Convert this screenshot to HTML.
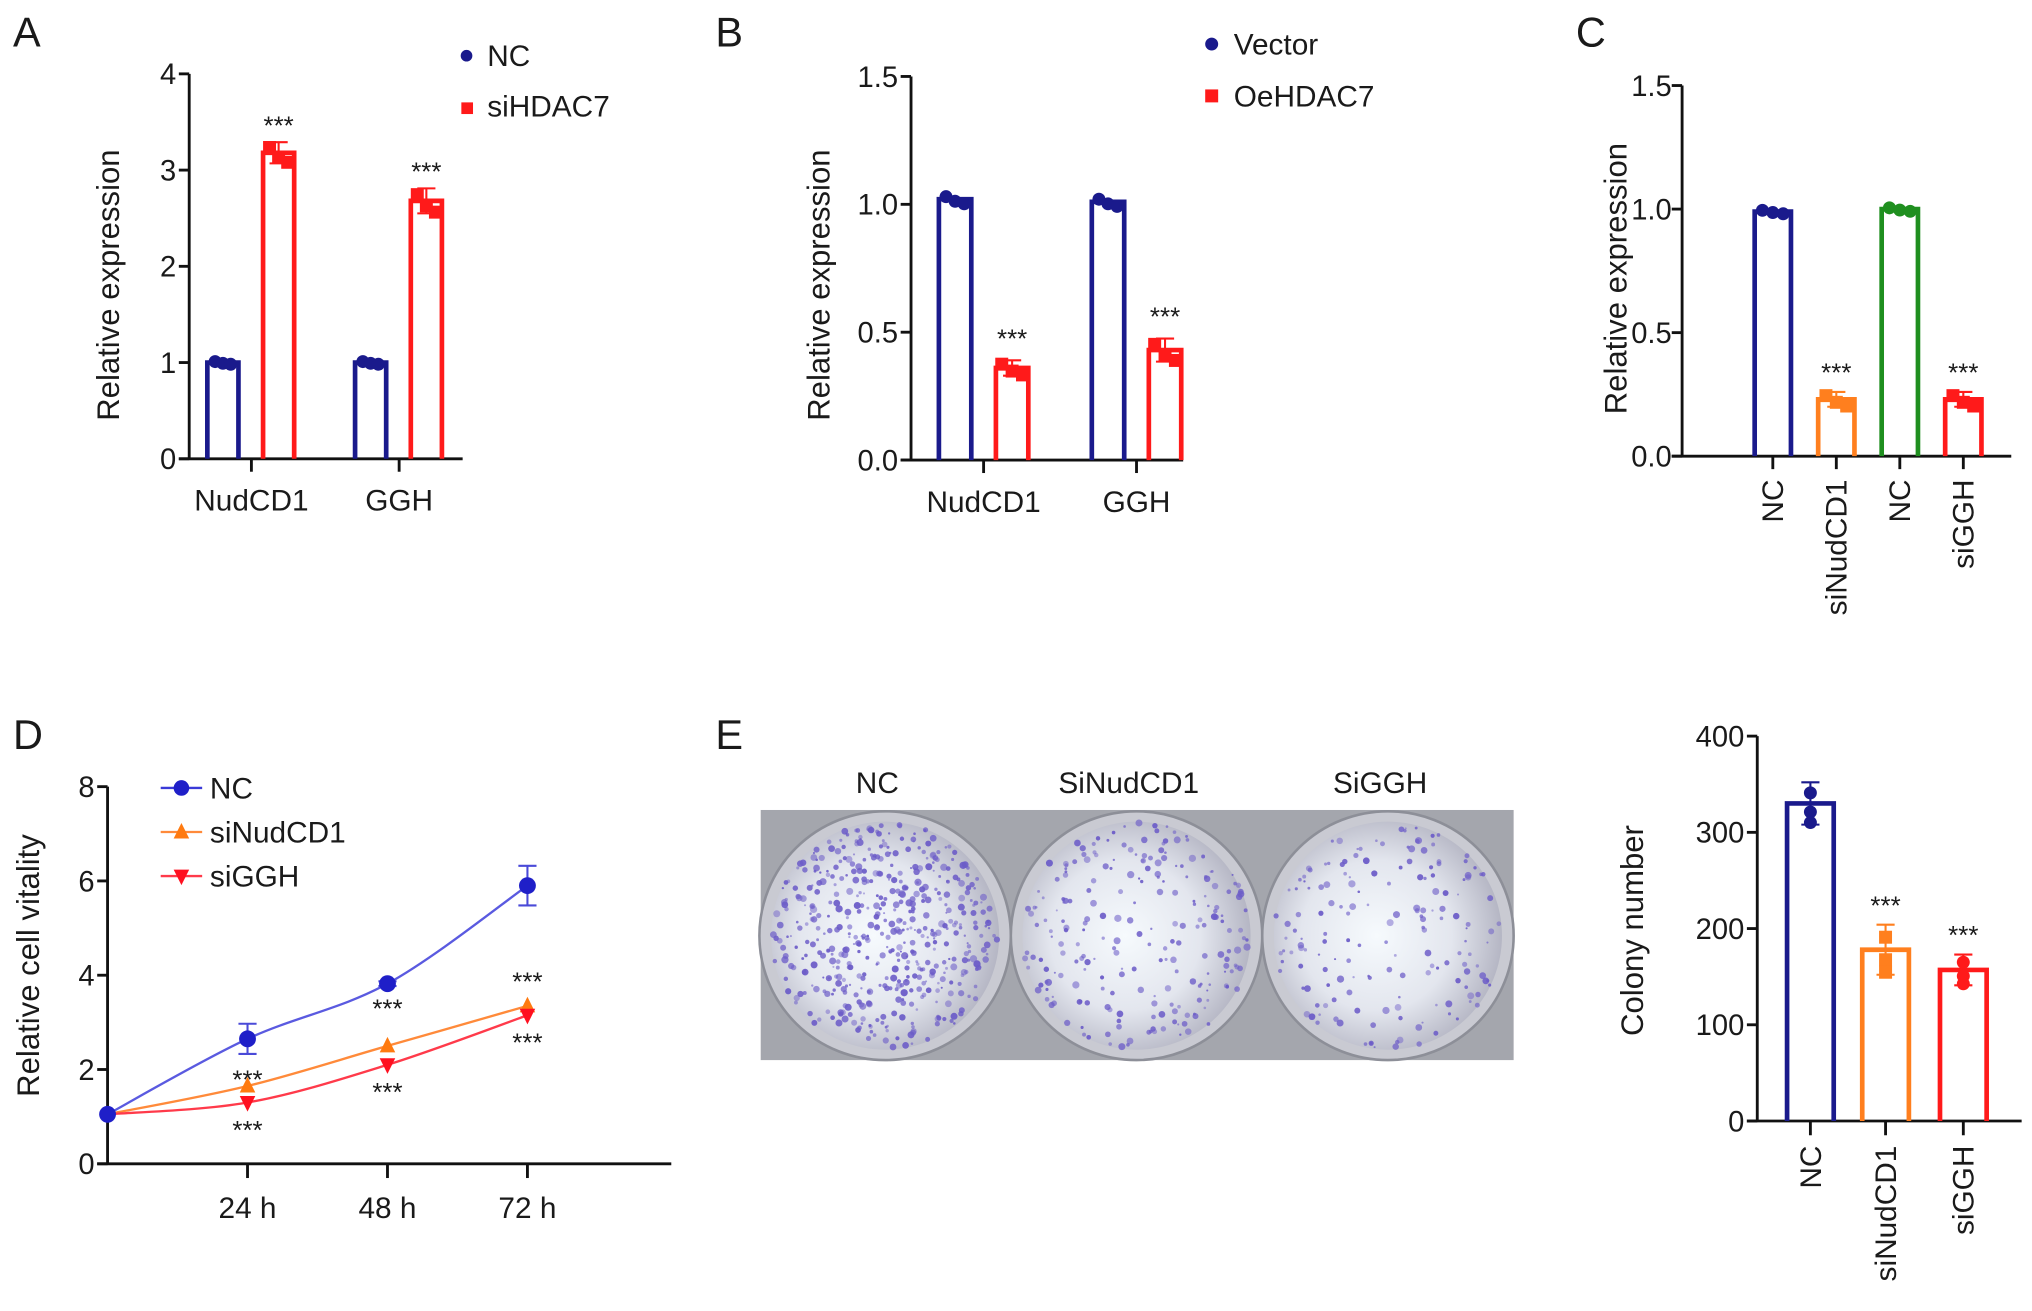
<!DOCTYPE html>
<html><head><meta charset="utf-8"><title>Figure</title>
<style>html,body{margin:0;padding:0;background:#fff}svg{display:block}text{font-family:"Liberation Sans",Arial,sans-serif;fill:#1a1a1a}</style>
</head><body>
<svg id="fig" xmlns="http://www.w3.org/2000/svg" width="2032" height="1311" viewBox="0 0 1568 1011.6" preserveAspectRatio="none">
<defs>
<radialGradient id="dishg" cx="0.45" cy="0.5" r="0.55"><stop offset="0" stop-color="#f6fafd"/><stop offset="0.6" stop-color="#e3e6ee"/><stop offset="1" stop-color="#b5b6c4"/></radialGradient>
</defs>
<g id="root"></g>
</svg>
<script>
// ---- Panel A data ----
const aCats = ["NudCD1", "GGH"];
const aNC = [1.00, 1.00];
const aSi = [3.18, 2.68];
const aSiErr = [0.11, 0.13];
const aTicks = [0, 1, 2, 3, 4];
// ---- Panel B data ----
const bCats = ["NudCD1", "GGH"];
const bVec = [1.02, 1.01];
const bOe = [0.36, 0.43];
const bOeErr = [0.03, 0.045];
const bTicks = ["0.0", "0.5", "1.0", "1.5"];
// ---- Panel C data ----
const cCats = ["NC", "siNudCD1", "NC", "siGGH"];
const cVals = [0.99, 0.23, 1.00, 0.23];
const cErr = [0.01, 0.03, 0.01, 0.03];
const cTicks = ["0.0", "0.5", "1.0", "1.5"];
// ---- Panel D data ----
const dTimes = ["", "24 h", "48 h", "72 h"];
const dNC = [1.05, 2.65, 3.82, 5.90];
const dNCErr = [0, 0.32, 0.05, 0.42];
const dNud = [1.05, 1.65, 2.50, 3.35];
const dGGH = [1.05, 1.30, 2.10, 3.15];
const dTicks = [0, 2, 4, 6, 8];
// ---- Panel E data ----
const eCats = ["NC", "siNudCD1", "siGGH"];
const eVals = [330, 178, 157];
const eErr = [22, 26, 16];
const eTicks = [0, 100, 200, 300, 400];

const NS = "http://www.w3.org/2000/svg";
const root = document.getElementById("root");
function mk(tag, attrs, parent) {
  const e = document.createElementNS(NS, tag);
  for (const k in attrs) e.setAttribute(k, attrs[k]);
  (parent || root).appendChild(e);
  return e;
}
function txt(s, x, y, size, anchor, parent, rot) {
  const t = mk("text", {x: x, y: y, "font-size": size, "text-anchor": anchor || "middle"}, parent);
  if (rot) t.setAttribute("transform", "rotate(-90 " + x + " " + y + ")");
  t.textContent = s;
  return t;
}
const BLUE = "#1a1a8c", RED = "#ff1a1a", ORANGE = "#ff7f1e", GREEN = "#1f8f1f", K = "#111";

function axisY(g, x, yScale, ticks, labels, top, bottom, gap) {
  mk("line", {x1: x, y1: top, x2: x, y2: bottom, stroke: K, "stroke-width": 2.2}, g);
  ticks.forEach((v, i) => {
    const y = yScale(v);
    mk("line", {x1: x - 8, y1: y, x2: x, y2: y, stroke: K, "stroke-width": 2.2}, g);
    const t = txt(String(labels[i]), x - (gap || 10), y + 8, 22.5, "end", g);
    
    
  });
}
function bar(g, cx, w, v, yScale, color, name) {
  const y0 = yScale(0), y = yScale(v);
  const r = mk("path", {d: `M${cx - w / 2},${y0} L${cx - w / 2},${y} L${cx + w / 2},${y} L${cx + w / 2},${y0}`, fill: "none", stroke: color, "stroke-width": 3.6}, g);
  
  
  return r;
}
function errbar(g, cx, v, e, yScale, color) {
  const a = yScale(v + e), b = yScale(v - e);
  mk("line", {x1: cx, y1: a, x2: cx, y2: b, stroke: color, "stroke-width": 1.6}, g);
  mk("line", {x1: cx - 7, y1: a, x2: cx + 7, y2: a, stroke: color, "stroke-width": 1.6}, g);
  mk("line", {x1: cx - 7, y1: b, x2: cx + 7, y2: b, stroke: color, "stroke-width": 1.6}, g);
}
function dots(g, cx, v, e, yScale, color, shape, spread) {
  const offs = [[-spread, 0.5], [0, -0.4], [spread, -0.9]];
  offs.forEach(o => {
    const y = yScale(v + o[1] * e), x = cx + o[0];
    if (shape === "sq") mk("rect", {x: x - 5, y: y - 5, width: 10, height: 10, fill: color}, g);
    else mk("circle", {cx: x, cy: y, r: 5, fill: color}, g);
  });
}
function stars(g, x, y) {
  const t = txt("***", x, y, 20, "middle", g);
  
  
}
function panelLabel(s, x, y) {
  const t = txt(s, x, y, 32, "start");
  
  
}

// ================= Panel A =================
(function () {
  const g = mk("g", {});
  
  
  panelLabel("A", 10, 36);
  const y = v => 354 - v * (354 - 57) / 4;
  mk("line", {x1: 138, y1: 354, x2: 357, y2: 354, stroke: K, "stroke-width": 2.2}, g);
  axisY(g, 146, y, aTicks, aTicks, 57, 354);
  const centers = [194, 308];
  aCats.forEach((c, i) => {
    const cx = centers[i];
    mk("line", {x1: cx, y1: 354, x2: cx, y2: 364, stroke: K, "stroke-width": 2.2}, g);
    const t = txt(c, cx, 394, 23, "middle", g);
    
    
    bar(g, cx - 22, 24, aNC[i], y, BLUE, "bar-nc-" + c.toLowerCase());
    dots(g, cx - 22, aNC[i], 0.02, y, BLUE, "c", 6);
    bar(g, cx + 21, 24, aSi[i], y, RED, "bar-sihdac7-" + c.toLowerCase());
    errbar(g, cx + 21, aSi[i], aSiErr[i], y, RED);
    dots(g, cx + 21, aSi[i], aSiErr[i], y, RED, "sq", 7);
    stars(g, cx + 21, y(aSi[i] + aSiErr[i]) - 6);
  });
  const tt = txt("Relative expression", 92, 220, 24, "middle", g, true);
  
  
  const l = mk("g", {}, g);
  
  
  mk("circle", {cx: 360, cy: 43, r: 4.5, fill: BLUE}, l);
  txt("NC", 376, 51, 23, "start", l);
  mk("rect", {x: 356, y: 79, width: 9, height: 9, fill: RED}, l);
  txt("siHDAC7", 376, 90, 23, "start", l);
})();

// ================= Panel B =================
(function () {
  const g = mk("g", {});
  
  
  panelLabel("B", 552, 36);
  const y = v => 355 - v * (355 - 59) / 1.5;
  mk("line", {x1: 695, y1: 355, x2: 913, y2: 355, stroke: K, "stroke-width": 2.2}, g);
  axisY(g, 703, y, [0, 0.5, 1, 1.5], bTicks, 59, 355);
  const centers = [759, 877];
  bCats.forEach((c, i) => {
    const cx = centers[i];
    mk("line", {x1: cx, y1: 355, x2: cx, y2: 365, stroke: K, "stroke-width": 2.2}, g);
    const t = txt(c, cx, 395, 23, "middle", g);
    
    
    bar(g, cx - 22, 25, bVec[i], y, BLUE, "bar-vector-" + c.toLowerCase());
    dots(g, cx - 22, bVec[i], 0.02, y, BLUE, "c", 7);
    bar(g, cx + 22, 25, bOe[i], y, RED, "bar-oehdac7-" + c.toLowerCase());
    errbar(g, cx + 22, bOe[i], bOeErr[i], y, RED);
    dots(g, cx + 22, bOe[i], bOeErr[i], y, RED, "sq", 8);
    stars(g, cx + 22, y(bOe[i] + bOeErr[i]) - 10);
  });
  const tt = txt("Relative expression", 640, 220, 24, "middle", g, true);
  
  
  const l = mk("g", {}, g);
  
  
  mk("circle", {cx: 935, cy: 34, r: 5, fill: BLUE}, l);
  txt("Vector", 952, 42, 23, "start", l);
  mk("rect", {x: 930, y: 69, width: 10, height: 10, fill: RED}, l);
  txt("OeHDAC7", 952, 82, 23, "start", l);
})();

// ================= Panel C =================
(function () {
  const g = mk("g", {});
  
  
  panelLabel("C", 1216, 36);
  const y = v => 352 - v * (352 - 66) / 1.5;
  mk("line", {x1: 1290, y1: 352, x2: 1552, y2: 352, stroke: K, "stroke-width": 2.2}, g);
  axisY(g, 1298, y, [0, 0.5, 1, 1.5], cTicks, 66, 352, 8);
  const colors = [BLUE, ORANGE, GREEN, RED];
  const centers = [1368, 1417, 1466, 1515];
  cCats.forEach((c, i) => {
    const cx = centers[i];
    mk("line", {x1: cx, y1: 352, x2: cx, y2: 362, stroke: K, "stroke-width": 2.2}, g);
    const t = txt(c, cx + 8, 370, 23, "end", g, true);
    
    
    bar(g, cx, 28, cVals[i], y, colors[i], "bar-" + c.toLowerCase() + "-" + i);
    if (cVals[i] < 0.5) { errbar(g, cx, cVals[i], cErr[i], y, colors[i]); stars(g, cx, y(cVals[i] + cErr[i]) - 8); }
    dots(g, cx, cVals[i], cErr[i], y, colors[i], i % 2 ? "sq" : "c", 8);
  });
  const tt = txt("Relative expression", 1255, 215, 24, "middle", g, true);
  
  
})();

// ================= Panel D =================
(function () {
  const g = mk("g", {});
  
  
  panelLabel("D", 10, 578);
  const y = v => 898 - v * (898 - 607) / 8;
  const xs = [83, 190, 300, 407];
  const x = i => xs[0] + i * (xs[3] - xs[0]) / 3;
  mk("line", {x1: 75, y1: 898, x2: 518, y2: 898, stroke: K, "stroke-width": 2.2}, g);
  axisY(g, 83, y, dTicks, dTicks, 607, 898);
  dTimes.forEach((t, i) => {
    if (!t) return;
    mk("line", {x1: x(i), y1: 898, x2: x(i), y2: 909, stroke: K, "stroke-width": 2.2}, g);
    const e = txt(t, x(i), 940, 23, "middle", g);
    
    
  });
  function curve(vals, color, name) {
    const pts = vals.map((v, i) => [x(i), y(v)]);
    let d = "M" + pts[0][0] + "," + pts[0][1];
    for (let i = 0; i < pts.length - 1; i++) {
      const p0 = pts[Math.max(0, i - 1)], p1 = pts[i], p2 = pts[i + 1], p3 = pts[Math.min(pts.length - 1, i + 2)];
      const c1 = [p1[0] + (p2[0] - p0[0]) / 6, p1[1] + (p2[1] - p0[1]) / 6];
      const c2 = [p2[0] - (p3[0] - p1[0]) / 6, p2[1] - (p3[1] - p1[1]) / 6];
      d += ` C${c1[0]},${c1[1]} ${c2[0]},${c2[1]} ${p2[0]},${p2[1]}`;
    }
    const p = mk("path", {d: d, fill: "none", stroke: color, "stroke-width": 1.8}, g);
    
    
  }
  const cNC = "#3a3ad8", cNud = "#ff8a3a", cG = "#ff3a4a";
  curve(dNC, "#5a5ae0", "line-nc");
  curve(dNud, cNud, "line-sinudcd1");
  curve(dGGH, cG, "line-siggh");
  dNC.forEach((v, i) => {
    if (dNCErr[i] > 0) errbar(g, x(i), v, dNCErr[i], y, "#4a4ad8");
    mk("circle", {cx: x(i), cy: y(v), r: 6.5, fill: "#1f1fc8"}, g);
  });
  dNud.forEach((v, i) => {
    if (i === 0) return;
    const px = x(i), py = y(v);
    mk("path", {d: `M${px - 6},${py + 5} L${px + 6},${py + 5} L${px},${py - 7} Z`, fill: "#ff7a10"}, g);
    stars(g, px, i === 3 ? py - 12 : py - (i === 1 ? -2 : 22));
  });
  dGGH.forEach((v, i) => {
    if (i === 0) return;
    const px = x(i), py = y(v);
    mk("path", {d: `M${px - 6},${py - 5} L${px + 6},${py - 5} L${px},${py + 7} Z`, fill: "#ff1020"}, g);
    stars(g, px, py + 28);
  });
  const tt = txt("Relative cell vitality", 30, 745, 24, "middle", g, true);
  
  
  const leg = [["NC", cNC, "c"], ["siNudCD1", cNud, "up"], ["siGGH", cG, "dn"]];
  leg.forEach((L, i) => {
    const ly = 608 + i * 34;
    const lg = mk("g", {}, g);
    
    
    mk("line", {x1: 124, y1: ly, x2: 156, y2: ly, stroke: L[1], "stroke-width": 1.8}, lg);
    if (L[2] === "c") mk("circle", {cx: 140, cy: ly, r: 6, fill: "#1f1fc8"}, lg);
    else if (L[2] === "up") mk("path", {d: `M134,${ly + 5} L146,${ly + 5} L140,${ly - 7} Z`, fill: "#ff7a10"}, lg);
    else mk("path", {d: `M134,${ly - 5} L146,${ly - 5} L140,${ly + 7} Z`, fill: "#ff1020"}, lg);
    txt(L[0], 162, ly + 8, 23, "start", lg);
  });
})();

// ================= Panel E photo =================
(function () {
  panelLabel("E", 552, 578);
  const g = mk("g", {});
  
  
  mk("rect", {x: 587, y: 625, width: 581, height: 193, fill: "#a4a6ad"}, g);
  const names = ["NC", "SiNudCD1", "SiGGH"];
  const cxs = [683, 877, 1071];
  const counts = [520, 230, 170];
  let seed = 7;
  const rnd = () => { seed = (seed * 16807) % 2147483647; return seed / 2147483647; };
  cxs.forEach((cx, k) => {
    const dg = mk("g", {}, g);
    
    
    mk("ellipse", {cx: cx, cy: 722, rx: 97, ry: 96, fill: "#c9cad2", stroke: "#8d8f98", "stroke-width": 2}, dg);
    mk("ellipse", {cx: cx, cy: 722, rx: 88, ry: 88, fill: "url(#dishg)"}, dg);
    for (let n = 0; n < counts[k]; n++) {
      const a = rnd() * Math.PI * 2;
      const rr = 88 * Math.pow(rnd(), k === 0 ? 0.55 : 0.35);
      const px = cx + Math.cos(a) * rr, py = 722 + Math.sin(a) * rr;
      mk("circle", {cx: px.toFixed(1), cy: py.toFixed(1), r: (0.8 + rnd() * 2).toFixed(1), fill: "#6c5cc8", "fill-opacity": (0.45 + rnd() * 0.5).toFixed(2)}, dg);
    }
    const t = txt(names[k], cx - 6, 612, 23, "middle");
    
    
  });
})();

// ================= Panel E bars =================
(function () {
  const g = mk("g", {});
  
  
  const y = v => 865 - v * (865 - 568) / 400;
  mk("line", {x1: 1348, y1: 865, x2: 1560, y2: 865, stroke: K, "stroke-width": 2.2}, g);
  axisY(g, 1356, y, eTicks, eTicks, 568, 865);
  const colors = [BLUE, ORANGE, RED];
  const centers = [1397, 1455, 1515];
  eCats.forEach((c, i) => {
    const cx = centers[i];
    mk("line", {x1: cx, y1: 865, x2: cx, y2: 876, stroke: K, "stroke-width": 2.2}, g);
    const t = txt(c, cx + 8, 884, 23, "end", g, true);
    
    
    bar(g, cx, 36, eVals[i], y, colors[i], "bar-" + c.toLowerCase());
    errbar(g, cx, eVals[i], eErr[i], y, colors[i]);
    dots(g, cx, eVals[i], eErr[i], y, colors[i], i === 1 ? "sq" : "c", 0.01);
    if (i > 0) stars(g, cx, y(eVals[i] + eErr[i]) - 8);
  });
  const tt = txt("Colony number", 1268, 718, 24, "middle", g, true);
  
  
})();
</script>
</body></html>
